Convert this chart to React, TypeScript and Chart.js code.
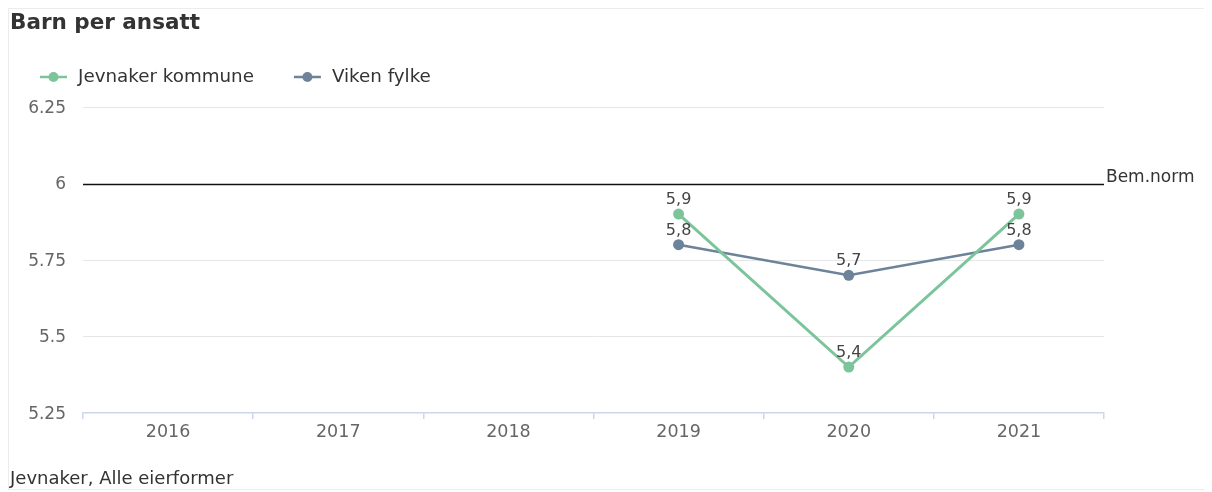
import React, { useEffect, useRef } from "react";
import { Chart, registerables } from "chart.js";

Chart.register(...registerables);

const years = ["2016", "2017", "2018", "2019", "2020", "2021"];
const jevnaker = [null, null, null, 5.9, 5.4, 5.9];
const viken = [null, null, null, 5.8, 5.7, 5.8];
const yTicks = [5.25, 5.5, 5.75, 6, 6.25];
const yTickLabels = ["5.25", "5.5", "5.75", "6", "6.25"];
const normValue = 6;
const normLabel = "Bem.norm";
const seriesNames = ["Jevnaker kommune", "Viken fylke"];
const seriesColors = ["#7cc59b", "#6c8399"];
const titleText = "Barn per ansatt";
const captionText = "Jevnaker, Alle eierformer";

const FONT = "'DejaVu Sans', sans-serif";

const overlay = {
  id: "overlay",
  beforeDatasetsDraw(chart: any) {
    const { ctx, chartArea, scales } = chart;
    const y = Math.round(scales.y.getPixelForValue(normValue)) + 0.5;
    ctx.save();
    ctx.strokeStyle = "#111";
    ctx.lineWidth = 1.5;
    ctx.beginPath();
    ctx.moveTo(chartArea.left, y);
    ctx.lineTo(chartArea.right, y);
    ctx.stroke();
    ctx.fillStyle = "#333";
    ctx.font = `17px ${FONT}`;
    ctx.textAlign = "left";
    ctx.textBaseline = "alphabetic";
    ctx.fillText(normLabel, chartArea.right + 2, y - 3);
    ctx.restore();
  },
  afterDatasetsDraw(chart: any) {
    const { ctx } = chart;
    ctx.save();
    ctx.fillStyle = "#444";
    ctx.font = `16px ${FONT}`;
    ctx.textAlign = "center";
    ctx.textBaseline = "alphabetic";
    chart.data.datasets.forEach((ds: any, i: number) => {
      const meta = chart.getDatasetMeta(i);
      meta.data.forEach((pt: any, j: number) => {
        const v = ds.data[j];
        if (v == null) return;
        ctx.fillText(String(v).replace(".", ","), pt.x, pt.y - 10);
      });
    });
    ctx.restore();
  },
  afterDraw(chart: any) {
    const { ctx } = chart;
    ctx.save();
    // title
    ctx.fillStyle = "#333";
    ctx.font = `bold 21.5px ${FONT}`;
    ctx.textAlign = "left";
    ctx.textBaseline = "alphabetic";
    ctx.fillText(titleText, 1, 20);
    // legend
    ctx.font = `18.3px ${FONT}`;
    ctx.textBaseline = "middle";
    let x = 31;
    const ly = 68;
    chart.data.datasets.forEach((ds: any) => {
      ctx.strokeStyle = ds.borderColor;
      ctx.lineWidth = 2.5;
      ctx.beginPath();
      ctx.moveTo(x, ly);
      ctx.lineTo(x + 27, ly);
      ctx.stroke();
      ctx.fillStyle = ds.borderColor;
      ctx.beginPath();
      ctx.arc(x + 13.5, ly, 5, 0, Math.PI * 2);
      ctx.fill();
      ctx.fillStyle = "#333";
      const tx = x + 38;
      ctx.fillText(ds.label, tx, ly);
      x = tx + ctx.measureText(ds.label).width + 40;
    });
    // caption
    ctx.font = `18px ${FONT}`;
    ctx.textBaseline = "alphabetic";
    ctx.fillStyle = "#333";
    ctx.fillText(captionText, 1, 475);
    ctx.restore();
  },
};

export default function App() {
  const ref = useRef<HTMLCanvasElement | null>(null);
  useEffect(() => {
    if (!ref.current) return;
    const chart = new Chart(ref.current, {
      type: "line",
      data: {
        labels: years,
        datasets: [
          {
            label: seriesNames[0],
            data: jevnaker,
            borderColor: seriesColors[0],
            backgroundColor: seriesColors[0],
            borderWidth: 3,
            pointRadius: 5.5,
            pointHoverRadius: 5.5,
            pointBorderWidth: 0,
            spanGaps: false,
          },
          {
            label: seriesNames[1],
            data: viken,
            borderColor: seriesColors[1],
            backgroundColor: seriesColors[1],
            borderWidth: 2.5,
            pointRadius: 5.5,
            pointHoverRadius: 5.5,
            pointBorderWidth: 0,
            spanGaps: false,
          },
        ],
      },
      options: {
        animation: false,
        responsive: false,
        maintainAspectRatio: false,
        layout: { padding: { top: 98, right: 103, bottom: 0, left: 0 } },
        plugins: {
          legend: { display: false },
          title: { display: false },
          tooltip: { enabled: false },
        },
        scales: {
          x: {
            offset: true,
            grid: {
              offset: true,
              drawOnChartArea: false,
              drawTicks: true,
              tickLength: 6,
              color: "#ccd6eb",
              lineWidth: 1.5,
            },
            border: { display: true, color: "#ccd6eb", width: 1.5 },
            ticks: {
              color: "#666",
              font: { family: FONT, size: 17.5 },
              padding: 3,
              maxRotation: 0,
            },
            afterFit(scale: any) {
              scale.height = 76;
            },
          },
          y: {
            min: yTicks[0],
            max: yTicks[yTicks.length - 1],
            afterBuildTicks(scale: any) {
              scale.ticks = yTicks.map((v) => ({ value: v }));
            },
            grid: {
              drawTicks: false,
              color: (c: any) =>
                c.tick && (c.tick.value === yTicks[0] || c.tick.value === normValue)
                  ? "rgba(0,0,0,0)"
                  : "#e6e6e6",
              lineWidth: 1,
            },
            border: { display: false },
            ticks: {
              color: "#666",
              font: { family: FONT, size: 17 },
              padding: 17,
              labelOffset: 1.5,
              callback: (v: any) => {
                const i = yTicks.indexOf(Number(v));
                return i >= 0 ? yTickLabels[i] : "";
              },
            },
            afterFit(scale: any) {
              scale.width = 74;
            },
          },
        },
      },
      plugins: [overlay],
    });
    return () => chart.destroy();
  }, []);
  return (
    <div
      style={{
        width: 1200,
        height: 482,
        boxSizing: "border-box",
        border: "1px solid #ececec",
        background: "#fff",
      }}
    >
      <canvas ref={ref} width={1198} height={480} style={{ display: "block", width: 1198, height: 480 }} />
    </div>
  );
}
